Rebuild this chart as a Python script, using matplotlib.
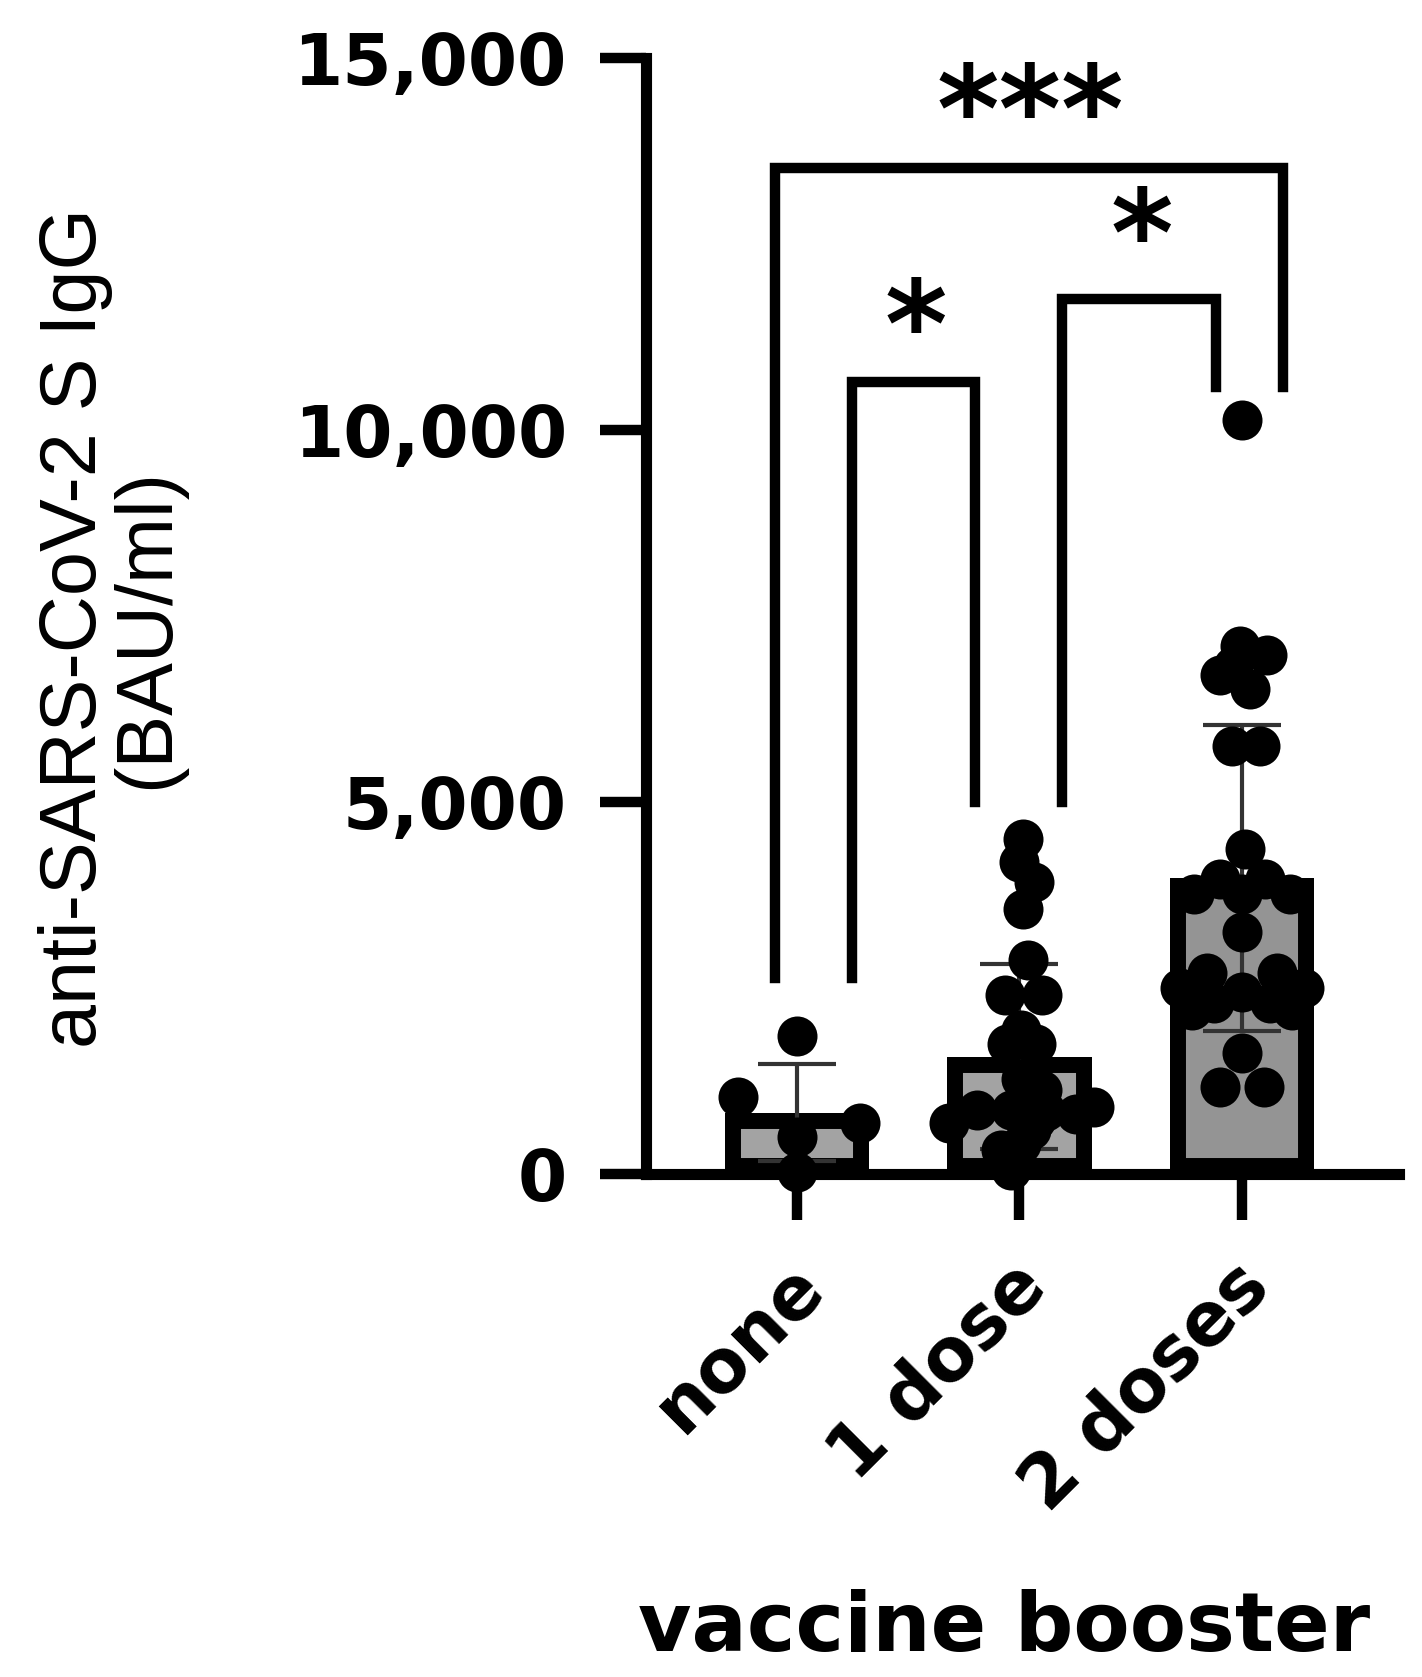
import matplotlib.pyplot as plt
import matplotlib.transforms as mtransforms
import numpy as np

# group means / SD
groups = ["none", "1 dose", "2 doses"]
means = [822, 1577, 3976]
sds = [650, 1240, 2060]
fills = ["#a3a3a3", "#a3a3a3", "#949494"]

# individual values per group, with the sideways spread seen in the picture
none_vals = [1850, 1040, 690, 500, 30]
none_dx = [0.0, -0.265, 0.283, 0.0, 0.0]

dose1_vals = [4500, 4190, 3920, 3560, 2880, 2400, 2400, 1940, 1740, 1740,
              1270, 1130, 860, 860, 840, 800, 690, 900, 590, 320, 50, 730, 400, 250]
dose1_dx = [0.018, -0.004, 0.067, 0.018, 0.04, -0.067, 0.099, 0.009, -0.054, 0.076,
            0.009, 0.099, -0.193, -0.036, 0.121, 0.256, -0.319, 0.337, 0.054, -0.081,
            -0.036, 0.076, 0.009, -0.022]

dose2_vals = [10130, 7100, 6970, 6830, 6700, 6520, 5750, 5750, 4370, 3960, 3960,
              3760, 3760, 3760, 3250, 2700, 2700, 2500, 2500, 2450, 2300, 2300,
              2200, 2200, 1630, 1170, 1170]
dose2_dx = [0, -0.009, 0.112, -0.04, -0.099, 0.036, -0.045, 0.081, 0.013, -0.099, 0.103,
            -0.216, 0, 0.216, 0, -0.157, 0.157, -0.279, 0.279, 0, -0.126, 0.126,
            -0.225, 0.225, 0, -0.099, 0.099]

# comparisons: (left x, right x, left bottom, right bottom, top, label, label x, label y)
comparisons = [
    (-0.10, 2.184, 2630, 10580, 13520, "***", 1.047, 14200),
    (0.247, 0.80, 2630, 5000, 10650, "*", 0.535, 11300),
    (1.19, 1.883, 5000, 10580, 11760, "*", 1.55, 12530),
]

fig = plt.figure(figsize=(14.22, 16.77), dpi=100)
ax = fig.add_axes([0.4543, 0.3000, 0.9838 - 0.4543, 0.9654 - 0.3000])

x = np.arange(len(groups))
bars = ax.bar(x, means, width=0.648, color=fills, edgecolor="black",
              linewidth=23, zorder=2)
for b in bars:
    b.set_clip_path(b)  # keep the thick border inside the bar like Prism does

ax.errorbar(x, means, yerr=sds, fmt="none", ecolor="#333333", elinewidth=3,
            capsize=28, capthick=3, zorder=3)

for i, (vals, dx) in enumerate([(none_vals, none_dx), (dose1_vals, dose1_dx),
                                (dose2_vals, dose2_dx)]):
    ax.scatter(i + np.array(dx), vals, s=830, color="black", linewidths=0,
               zorder=4, clip_on=False)

for x1, x2, y1, y2, top, lab, lx, ly in comparisons:
    ax.plot([x1, x1, x2, x2], [y1, top, top, y2], color="black", lw=7.5,
            solid_joinstyle="miter", clip_on=False, zorder=1)
    ax.text(lx, ly, lab, ha="center", va="center", fontsize=86,
            fontweight="bold", family="DejaVu Sans")

ax.set_xlim(-0.679, 2.706)
ax.set_ylim(0, 15000)
ax.set_yticks([0, 5000, 10000, 15000])
ax.set_yticklabels(["0", "5,000", "10,000", "15,000"], fontsize=51,
                   fontweight="bold")
ax.set_xticks(x)
ax.set_xticklabels(groups, fontsize=53, fontweight="bold", rotation=45,
                   ha="right", va="center", rotation_mode="anchor")

for side in ["top", "right"]:
    ax.spines[side].set_visible(False)
for side in ["left", "bottom"]:
    ax.spines[side].set_linewidth(8)
ax.tick_params(axis="both", length=33, width=7.5, color="black")
ax.tick_params(axis="y", pad=24)
ax.tick_params(axis="x", pad=40)

# nudge the slanted labels a bit to the right (after tick_params, which resets it)
offset = mtransforms.ScaledTranslation(0.16, 0, fig.dpi_scale_trans)
for lbl in ax.get_xticklabels():
    lbl.set_transform(lbl.get_transform() + offset)

ax.set_ylabel("anti-SARS-CoV-2 S IgG\n(BAU/ml)", fontsize=57, linespacing=0.95,
              family="Liberation Sans")
ax.yaxis.set_label_coords(-0.612, 0.489)
ax.set_xlabel("vaccine booster", fontsize=59, fontweight="bold")
ax.xaxis.set_label_coords(0.475, -0.372)

fig.savefig("out.png", dpi=100)
